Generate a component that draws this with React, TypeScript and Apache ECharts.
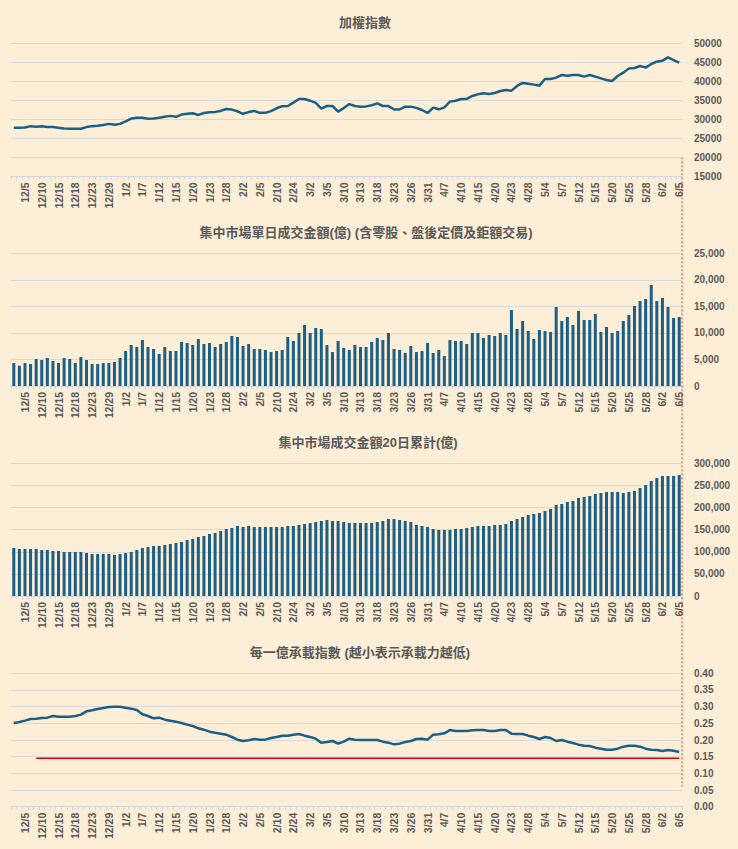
import React, { useEffect, useRef } from 'react';
import * as echarts from 'echarts';

const dates = [
  '12/3','12/4','12/5','12/8','12/9','12/10','12/11','12/12','12/15','12/16','12/17','12/18','12/19','12/22','12/23','12/24','12/26','12/29','12/30','12/31',
  '1/2','1/5','1/6','1/7','1/8','1/9','1/12','1/13','1/14','1/15','1/16','1/19','1/20','1/21','1/22','1/23','1/26','1/27','1/28','1/29','1/30',
  '2/2','2/3','2/4','2/5','2/6','2/9','2/10','2/11','2/23','2/24','2/25','2/26',
  '3/2','3/3','3/4','3/5','3/6','3/9','3/10','3/11','3/12','3/13','3/16','3/17','3/18','3/19','3/20','3/23','3/24','3/25','3/26','3/27','3/30','3/31',
  '4/1','4/2','4/7','4/8','4/9','4/10','4/13','4/14','4/15','4/16','4/17','4/20','4/21','4/22','4/23','4/24','4/27','4/28','4/29','4/30',
  '5/4','5/5','5/6','5/7','5/8','5/11','5/12','5/13','5/14','5/15','5/18','5/19','5/20','5/21','5/22','5/25','5/26','5/27','5/28','5/29',
  '6/1','6/2','6/3','6/4','6/5',
];

const taiex = [
  27800, 27800, 27850, 28200, 28050, 28200, 28000, 28000, 27750, 27600,
  27500, 27500, 27500, 27950, 28200, 28300, 28500, 28800, 28550, 28800,
  29450, 30200, 30400, 30400, 30150, 30200, 30400, 30650, 30900, 30650,
  31250, 31450, 31600, 31150, 31650, 31850, 31950, 32200, 32700, 32550,
  32100, 31450, 31900, 32200, 31700, 31700, 32150, 32900, 33450, 33500,
  34400, 35350, 35350, 34900, 34300, 32800, 33500, 33500, 32000, 32950,
  34000, 33500, 33330, 33400, 33700, 34200, 33500, 33500, 32600, 32600,
  33330, 33330, 33000, 32450, 31660, 33070, 32630, 33150, 34650, 34900,
  35350, 35350, 36140, 36570, 36840, 36660, 36930, 37450, 37720, 37540,
  38770, 39560, 39380, 39120, 38850, 40600, 40600, 40960, 41660, 41490,
  41660, 41660, 41220, 41660, 41220, 40780, 40350, 40080, 41400, 42270,
  43400, 43500, 44030, 43600, 44560, 45170, 45430, 46300, 45600, 44900,
];

const dailyTurnover = [
  4330, 3830, 4330, 4150, 5090, 4900, 5280, 4710, 4330, 5280,
  5090, 4330, 5460, 4900, 4150, 4150, 4330, 4330, 4520, 5280,
  6590, 7720, 7350, 8670, 7350, 6970, 6030, 7350, 6590, 6590,
  8290, 8100, 7720, 8850, 7910, 8100, 7350, 7910, 8290, 9420,
  9230, 7540, 7910, 6970, 6970, 6780, 6400, 6590, 6780, 9230,
  8480, 9990, 11490, 9990, 10930, 10740, 7720, 6400, 8480, 7160,
  6780, 7720, 7350, 7350, 8290, 9040, 8670, 9990, 6970, 6780,
  6220, 7540, 6400, 6590, 8100, 6220, 6780, 5650, 8670, 8480,
  8480, 7910, 9990, 9990, 9040, 9610, 9420, 9990, 9610, 14320,
  10740, 12250, 10360, 8850, 10550, 10360, 10170, 14880, 12250, 13000,
  11490, 14130, 12430, 12430, 13560, 10170, 11120, 9990, 10360, 12250,
  13380, 15070, 16010, 16390, 19030, 16010, 16580, 14880, 12810, 13000,
];

const turnover20d = [
  108500, 106300, 106300, 106300, 106300, 104000, 104000, 101800, 101800, 99500,
  99500, 99500, 99500, 97200, 95000, 95000, 95000, 95000, 92700, 95000,
  97200, 99500, 104000, 108500, 110800, 113100, 113100, 115300, 117600, 119900,
  122100, 126600, 128900, 133400, 135700, 140200, 142500, 147000, 151500, 153800,
  158300, 156100, 158300, 156100, 156100, 156100, 156100, 156100, 156100, 158300,
  158300, 160600, 162800, 165100, 167300, 169600, 171900, 169600, 169600, 167300,
  165100, 165100, 165100, 165100, 165100, 167300, 169600, 174100, 174100, 171900,
  169600, 167300, 160600, 158300, 156100, 151500, 149300, 149300, 149300, 151500,
  151500, 153800, 156100, 158300, 158300, 158300, 160600, 160600, 162800, 169600,
  174100, 178700, 183200, 185400, 187700, 192200, 196700, 205800, 208000, 212600,
  214800, 221600, 223900, 226100, 230700, 232900, 235200, 235200, 235200, 232900,
  235200, 237400, 244200, 251000, 260100, 266800, 271400, 271400, 271400, 273600,
];

const carryIndex = [
  0.251, 0.254, 0.258, 0.263, 0.264, 0.266, 0.267, 0.272, 0.270, 0.270,
  0.270, 0.272, 0.276, 0.286, 0.289, 0.293, 0.296, 0.299, 0.300, 0.300,
  0.297, 0.294, 0.290, 0.277, 0.272, 0.265, 0.267, 0.261, 0.258, 0.255,
  0.251, 0.246, 0.242, 0.235, 0.231, 0.225, 0.222, 0.219, 0.216, 0.209,
  0.201, 0.197, 0.199, 0.203, 0.201, 0.201, 0.206, 0.209, 0.213, 0.213,
  0.216, 0.218, 0.213, 0.209, 0.204, 0.192, 0.194, 0.197, 0.189, 0.195,
  0.204, 0.201, 0.200, 0.200, 0.200, 0.200, 0.195, 0.192, 0.187, 0.189,
  0.194, 0.197, 0.203, 0.204, 0.201, 0.216, 0.217, 0.220, 0.230, 0.227,
  0.227, 0.227, 0.229, 0.230, 0.230, 0.227, 0.227, 0.230, 0.230, 0.219,
  0.218, 0.218, 0.213, 0.209, 0.203, 0.209, 0.206, 0.197, 0.200, 0.195,
  0.191, 0.186, 0.183, 0.182, 0.177, 0.174, 0.171, 0.171, 0.174, 0.180,
  0.183, 0.183, 0.180, 0.174, 0.171, 0.170, 0.167, 0.170, 0.168, 0.164,
];

const thresholdValue = 0.145;
const thresholdStartIndex = 4;

const titles = [
  '加權指數',
  '集中市場單日成交金額(億) (含零股、盤後定價及鉅額交易)',
  '集中市場成交金額20日累計(億)',
  '每一億承載指數 (越小表示承載力越低)',
];

const BG = '#FDEFD7';
const BLUE = '#1B5F85';
const GRAY_TEXT = '#595959';
const GRID_LINE = '#D9D9D9';
const FONT = "'Liberation Sans', 'Noto Sans CJK TC', sans-serif";

export default function App() {
  const ref = useRef<HTMLDivElement>(null);

  useEffect(() => {
    document.body.style.margin = '0';
    const chart = echarts.init(ref.current!, null, { renderer: 'svg' });

    const gridTops = [43.3, 253.3, 463.3, 673.3];
    const gridHeights = [133, 132.7, 132.7, 133.4];
    const titleCenters = [365, 366, 368, 360];
    const titleYs = [22.5, 232.5, 442.5, 652.5];

    const fmtComma = (v: number) => v.toLocaleString('en-US');
    const yAxisDefs = [
      { min: 15000, max: 50000, interval: 5000, formatter: (v: number) => String(v) },
      { min: 0, max: 25000, interval: 5000, formatter: fmtComma },
      { min: 0, max: 300000, interval: 50000, formatter: fmtComma },
      { min: 0, max: 0.4, interval: 0.05, formatter: (v: number) => v.toFixed(2) },
    ];

    const threshold = carryIndex.map((_, i) => (i >= thresholdStartIndex ? thresholdValue : null));

    const option: any = {
      animation: false,
      backgroundColor: BG,
      textStyle: { fontFamily: FONT },
      grid: gridTops.map((t, i) => ({ left: 11, width: 671, top: t, height: gridHeights[i] })),
      xAxis: gridTops.map((_, i) => ({
        type: 'category',
        gridIndex: i,
        data: dates,
        boundaryGap: true,
        axisLine: { show: true, lineStyle: { color: '#D3D6DC', width: 1 } },
        axisTick: { show: true, interval: 0, length: 3, lineStyle: { color: '#D3D6DC' } },
        axisLabel: {
          interval: (idx: number) => idx % 3 === 2,
          rotate: 90,
          fontSize: 10.5,
          fontWeight: 'bold',
          color: GRAY_TEXT,
          fontFamily: FONT,
          margin: 6,
        },
        splitLine: { show: false },
      })),
      yAxis: yAxisDefs.map((d, i) => ({
        type: 'value',
        gridIndex: i,
        position: 'right',
        min: d.min,
        max: d.max,
        interval: d.interval,
        axisLine: { show: false },
        axisTick: { show: false },
        axisLabel: {
          formatter: d.formatter,
          fontSize: 10,
          fontWeight: 'bold',
          color: GRAY_TEXT,
          fontFamily: FONT,
          margin: 12,
        },
        splitLine: { show: true, lineStyle: { color: GRID_LINE, width: 1 } },
      })),
      series: [
        {
          type: 'line', xAxisIndex: 0, yAxisIndex: 0, data: taiex, symbol: 'none',
          lineStyle: { color: BLUE, width: 2.5 }, itemStyle: { color: BLUE },
        },
        {
          type: 'bar', xAxisIndex: 1, yAxisIndex: 1, data: dailyTurnover, barWidth: 3,
          itemStyle: { color: BLUE },
        },
        {
          type: 'bar', xAxisIndex: 2, yAxisIndex: 2, data: turnover20d, barWidth: 3,
          itemStyle: { color: BLUE },
        },
        {
          type: 'line', xAxisIndex: 3, yAxisIndex: 3, data: carryIndex, symbol: 'none',
          lineStyle: { color: BLUE, width: 2.5 }, itemStyle: { color: BLUE }, z: 3,
        },
        {
          type: 'line', xAxisIndex: 3, yAxisIndex: 3, data: threshold, symbol: 'none',
          lineStyle: { color: '#E00000', width: 1.5 }, itemStyle: { color: '#E00000' }, z: 2,
        },
      ],
      graphic: titles.map((t, i) => ({
        type: 'text',
        id: 'title' + i,
        x: titleCenters[i],
        y: titleYs[i],
        style: {
          text: t,
          align: 'center',
          verticalAlign: 'middle',
          fontSize: 13,
          fontWeight: 'bold',
          fontFamily: FONT,
          fill: GRAY_TEXT,
        },
      })),
    };

    chart.setOption(option);

    const lastX = chart.convertToPixel({ xAxisIndex: 0 }, dates.length - 1) as number;
    const firstX = chart.convertToPixel({ xAxisIndex: 0 }, 0) as number;
    const step = (lastX - firstX) / (dates.length - 1);
    const lineX = lastX + step / 2;
    const yTop = chart.convertToPixel({ yAxisIndex: 0 }, 20000) as number;
    const yBottom = chart.convertToPixel({ yAxisIndex: 3 }, 0.06) as number;

    chart.setOption({
      graphic: [
        {
          type: 'line',
          id: 'marker',
          shape: { x1: lineX, y1: yTop, x2: lineX, y2: yBottom },
          style: { stroke: '#F03030', lineWidth: 1, lineDash: [2, 2] },
          z: 10,
        },
      ],
    });

    return () => chart.dispose();
  }, []);

  return <div ref={ref} style={{ width: 738, height: 849, background: BG }} />;
}
